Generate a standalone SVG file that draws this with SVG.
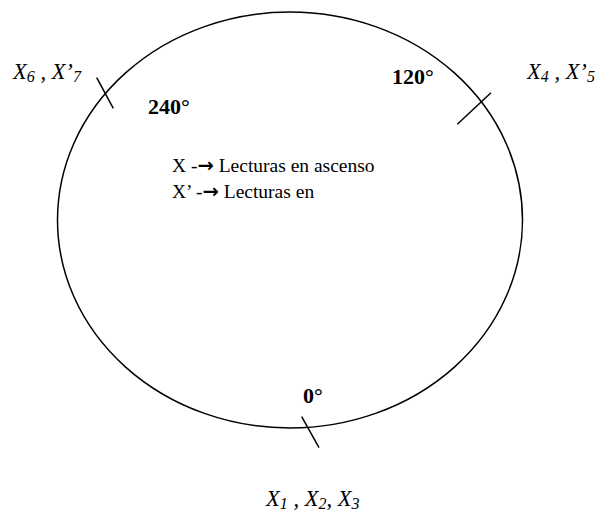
<svg xmlns="http://www.w3.org/2000/svg" width="602" height="514" viewBox="0 0 602 514">
<style>
.ln{fill:none;stroke:#000;stroke-width:1.5}
.t{font-family:"Liberation Serif",serif;font-size:19.5px;fill:#000}
.ar{font-family:"DejaVu Sans",sans-serif;font-weight:bold}
.b{font-family:"Liberation Serif",serif;font-size:22px;font-weight:bold;fill:#000}
.i{font-family:"Liberation Serif",serif;font-size:22.5px;font-style:italic;fill:#000}
.s{font-size:16px}
</style>
<rect width="602" height="514" fill="#fff"/>
<g id="circle">
<ellipse class="ln" cx="290" cy="220" rx="232.5" ry="208"/>
</g>
<g id="connectors">
<line class="ln" x1="96.7" y1="77.7" x2="113.3" y2="108.3"/>
<line class="ln" x1="457.3" y1="124.3" x2="491" y2="92.7"/>
<line class="ln" x1="301.7" y1="416.7" x2="319" y2="447.7"/>
</g>
<g id="deg240"><text class="b" x="148" y="114">240°</text></g>
<g id="deg120"><text class="b" x="392" y="84">120°</text></g>
<g id="deg0"><text class="b" x="303" y="403">0°</text></g>
<g id="legend">
<text class="t" x="172" y="172">X -<tspan class="ar">→</tspan> Lecturas en ascenso</text>
<text class="t" x="172" y="198">X’ -<tspan class="ar">→</tspan> Lecturas en</text>
</g>
<g id="lbl67"><text class="i" x="13" y="79">X<tspan class="s" dy="3">6</tspan><tspan dy="-3"> , X’</tspan><tspan class="s" dy="3">7</tspan></text></g>
<g id="lbl45"><text class="i" x="527" y="79">X<tspan class="s" dy="3">4</tspan><tspan dy="-3"> , X’</tspan><tspan class="s" dy="3">5</tspan></text></g>
<g id="lbl123"><text class="i" x="266" y="506">X<tspan class="s" dy="3">1</tspan><tspan dy="-3"> , X</tspan><tspan class="s" dy="3">2</tspan><tspan dy="-3">, X</tspan><tspan class="s" dy="3">3</tspan></text></g>
</svg>
